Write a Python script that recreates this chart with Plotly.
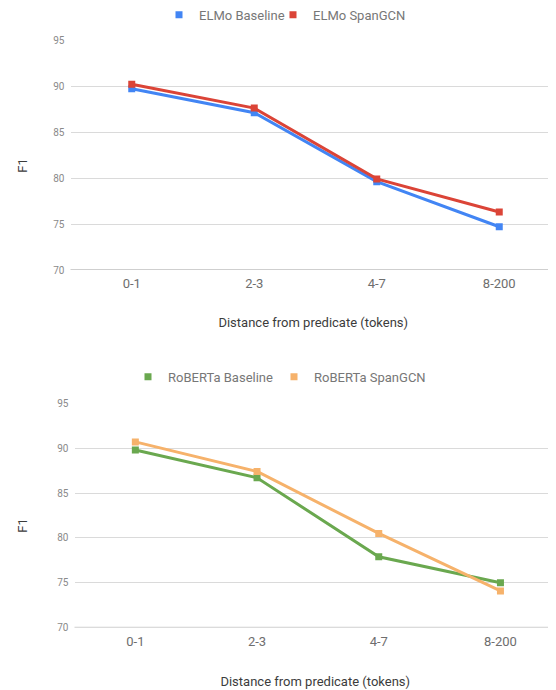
import plotly.graph_objects as go

categories = ["0-1", "2-3", "4-7", "8-200"]
elmo_baseline = [89.7, 87.1, 79.6, 74.7]
elmo_spangcn = [90.2, 87.6, 79.9, 76.3]
roberta_baseline = [89.8, 86.7, 77.9, 75.0]
roberta_spangcn = [90.7, 87.4, 80.5, 74.1]
y_ticks = [70, 75, 80, 85, 90, 95]

# page body has an 8px default margin; figure sized so that it fills the window
OFF = 8
W, H = 556 - OFF, 690 - OFF
FONT = "Roboto"
C_BLUE = "#4285F4"
C_RED = "#DB4437"
C_GREEN = "#6AA84F"
C_ORANGE = "#F6B26B"


def fx(px):
    return (px - OFF) / W


def fy(py):
    return 1 - (py - OFF) / H


fig = go.Figure()


def add_series(name, vals, color, xa, ya, legend, lw=None):
    fig.add_trace(go.Scatter(
        x=categories, y=vals, mode="lines+markers", name=name,
        line=dict(color=color, width=3),
        marker=dict(symbol="square", size=7, color=color),
        xaxis=xa, yaxis=ya, showlegend=False, hoverinfo="x+y+name"))
    extra = {} if lw is None else dict(legendwidth=lw)
    fig.add_trace(go.Scatter(
        x=[None], y=[None], mode="markers", name=name,
        marker=dict(symbol="square", size=7, color=color),
        xaxis=xa, yaxis=ya, legend=legend, showlegend=True, **extra))


add_series("ELMo Baseline", elmo_baseline, C_BLUE, "x", "y", "legend", lw=69)
add_series("ELMo SpanGCN", elmo_spangcn, C_RED, "x", "y", "legend")
add_series("RoBERTa Baseline", roberta_baseline, C_GREEN, "x2", "y2", "legend2", lw=101)
add_series("RoBERTa SpanGCN", roberta_spangcn, C_ORANGE, "x2", "y2", "legend2")

XT = "Distance from predicate (tokens)"
xcommon = dict(type="category", showgrid=False, zeroline=False, showline=False,
               ticks="", automargin=False, ticklabelstandoff=4,
               tickfont=dict(family=FONT, size=13, color="#6E6E6E"),
               title_font=dict(family=FONT, size=13, color="#3C3C3C"))
ycommon = dict(range=[70, 95], tickvals=y_ticks, showgrid=True, gridcolor="#DADADA",
               gridwidth=1, zeroline=False, showline=False, ticks="", automargin=False,
               ticklabelstandoff=5,
               tickfont=dict(family=FONT, size=10, color="#8A8A8A"))
legcommon = dict(orientation="h", xanchor="left", yanchor="middle",
                 font=dict(family=FONT, size=13, color="#777777"),
                 bgcolor="rgba(0,0,0,0)")

fig.update_layout(
    width=W, height=H,
    margin=dict(l=0, r=0, t=0, b=0, autoexpand=False),
    paper_bgcolor="white", plot_bgcolor="white",
    font=dict(family=FONT),
    xaxis=dict(domain=[fx(70.5), 1], range=[-0.5, -0.5 + (556 - 70.5) / 122.5],
               anchor="y", title=dict(text=XT, standoff=27), **xcommon),
    yaxis=dict(domain=[fy(270), fy(40)], anchor="x", **ycommon),
    xaxis2=dict(domain=[fx(74.5), 1], range=[-0.5, -0.5 + (556 - 74.5) / 121.7],
                anchor="y2", title=dict(text=XT, standoff=29), **xcommon),
    yaxis2=dict(domain=[fy(627.7), fy(403.3)], anchor="x2", **ycommon),
    legend=dict(x=fx(159), y=fy(14.7), **legcommon),
    legend2=dict(x=fx(128), y=fy(376.7), **legcommon),
)

for ytxt in (165, 525):
    fig.add_annotation(text="F1", xref="paper", yref="paper", x=fx(21.7), y=fy(ytxt),
                       xanchor="center", yanchor="middle", textangle=-90, showarrow=False,
                       font=dict(family=FONT, size=13, color="#3C3C3C"))

for yref, xref in (("y", "x"), ("y2", "x2")):
    fig.add_shape(type="line", xref=f"{xref} domain", yref=yref, x0=0, x1=1, y0=70, y1=70,
                  line=dict(color="#CFCFCF", width=2), layer="below")

fig.write_html("out.html")
